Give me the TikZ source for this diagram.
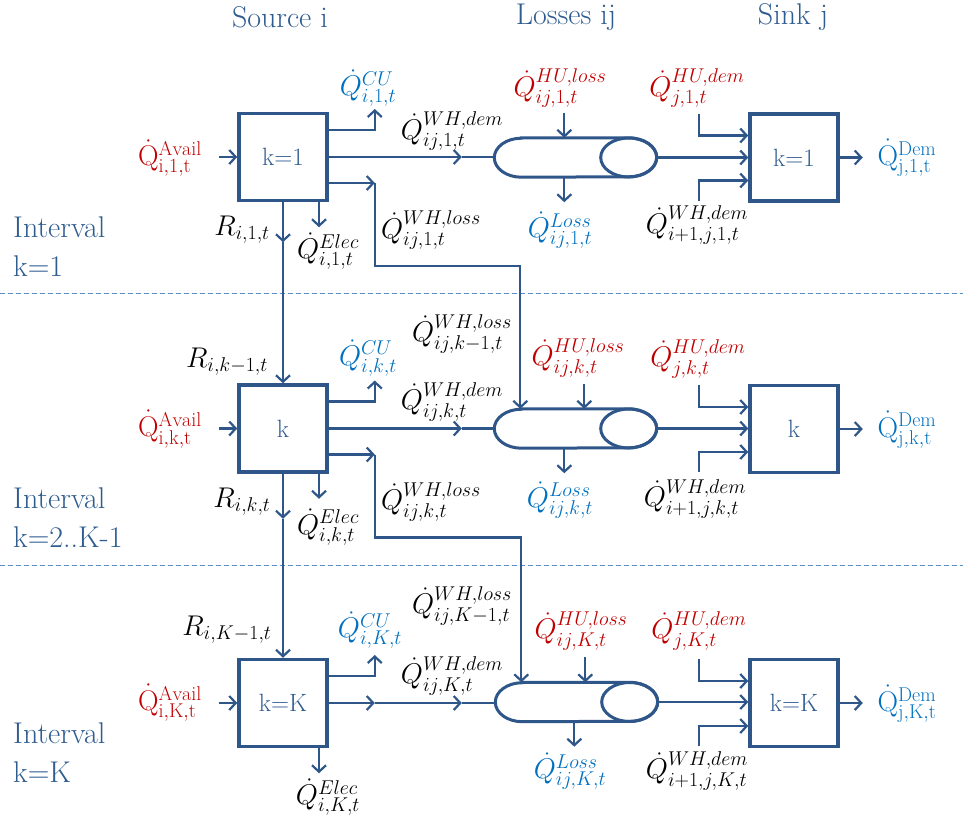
\RequirePackage{fix-cm}
\documentclass[tikz,border=0pt]{standalone}
\usepackage{amsmath}
\usepackage{fontspec}
\usetikzlibrary{arrows.meta,calc}
\definecolor{lineblue}{HTML}{2F5689}
\definecolor{txtblue}{HTML}{2F5C8F}
\definecolor{qred}{HTML}{C00000}
\definecolor{qblue}{HTML}{0070C0}
\definecolor{dashblue}{HTML}{5B8CCB}
\newcommand{\drawpipe}[3]{%
  \node[pipebox] (#1) at (#2,#3) {};
  \draw[pipeline] ([xshift=27pt]#1.north west) -- ([xshift=-28pt]#1.north east)
    arc[start angle=90,end angle=-90,x radius=28pt,y radius=19.5pt]
    -- ([xshift=27pt]#1.south west)
    arc[start angle=270,end angle=90,x radius=27pt,y radius=19.5pt] -- cycle;
  \draw[pipeline] ([xshift=-28pt]#1.east) ellipse[x radius=28pt,y radius=19.5pt];
}
\begin{document}
\begin{tikzpicture}[x=1pt,y=1pt,
  >={Straight Barb[length=6.5pt,width=14pt]},
  conn/.style={draw=lineblue, line width=2.2pt},
  arr/.style={conn,->},
  srcbox/.style={draw=lineblue, line width=3.5pt, minimum width=88pt, minimum height=87pt,
     inner sep=0pt, text=txtblue, font=\fontsize{25}{27}\selectfont},
  pipebox/.style={minimum width=162pt, minimum height=39pt, inner sep=0pt},
  pipeline/.style={draw=lineblue, line width=3pt},
  lbl/.style={inner sep=0pt, font=\fontsize{28.5}{30}\selectfont},
  lred/.style={lbl, text=qred},
  lblue/.style={lbl, text=qblue},
  lblack/.style={lbl, text=black},
  head/.style={text=txtblue, font=\fontsize{30}{39}\selectfont, inner sep=0pt},
  sepline/.style={draw=dashblue, line width=1pt, dash pattern=on 5pt off 3pt}
  ]
\useasboundingbox (0,0) rectangle (963,-822);

% separators
\draw[sepline] (0,-293) -- (963,-293);
\draw[sepline] (0,-565) -- (963,-565);

% headers
\node[head] (hsrc) at (280,-17) {Source i};
\node[head] (hlos) at (566,-17) {Losses ij};
\node[head] (hsnk) at (793,-17) {Sink j};

% interval labels
\node[head, align=left, anchor=west] (iv1) at (13,-247) {Interval\\k=1};
\node[head, align=left, anchor=west] (iv2) at (13,-518) {Interval\\k=2..K-1};
\node[head, align=left, anchor=west] (iv3) at (13,-753) {Interval\\k=K};

% boxes
\node[srcbox] (s1) at (283,-157) {k=1};
\node[srcbox] (s2) at (283,-428.5) {k};
\node[srcbox] (s3) at (283,-703) {k=K};
\node[srcbox] (t1) at (794,-157.5) {k=1};
\node[srcbox] (t2) at (794,-429) {k};
\node[srcbox] (t3) at (794,-703) {k=K};

% pipes
\drawpipe{p1}{575.5}{-157.5}
\drawpipe{p2}{575.5}{-428.5}
\drawpipe{p3}{576.5}{-702}

% repeated connectors
\foreach \r in {1,2,3} {
  \draw[arr] ([xshift=-18pt]s\r.west) -- (s\r.west);
  \draw[arr] ([yshift=27pt]s\r.east) -| ([xshift=46pt,yshift=48pt]s\r.east);
  \draw[arr] ([xshift=36pt]s\r.south) -- ++(0,-25pt);
  \draw[arr] (p\r.east) -- (p\r.east -| t\r.west);
  \draw[arr] ([xshift=-49pt,yshift=44pt]t\r.west) |- ([yshift=22pt]t\r.west);
  \draw[arr] ([xshift=-49pt,yshift=-43pt]t\r.west) |- ([yshift=-23pt]t\r.west);
  \draw[arr] (t\r.east) -- ++(23pt,0);
  \coordinate (m\r) at ($(s\r.east)+(133pt,0)$);
  \draw[conn] (m\r) -- (m\r -| p\r.west);
}
\draw[arr] (s1.east) -- (m1);
\draw[arr] (s2.east) -- (m2);
\coordinate (m3a) at ($(s3.east)+(46pt,0)$);
\draw[arr] (s3.east) -- (m3a);
\draw[arr] (m3a) -- (m3);

% loss lines to next interval
\draw[arr] ([yshift=-26pt]s1.east) -- ++(46pt,0) coordinate (c1);
\draw[arr] (c1) -- ++(0,-83pt) -| ([xshift=26pt]p2.north west);
\draw[arr] ([yshift=-26pt]s2.east) -- ++(46pt,0) coordinate (c2);
\draw[arr] (c2) -- ++(0,-83pt) -| ([xshift=26pt]p3.north west);

% R lines
\draw[arr] (s1.south) -- ++(0,-40pt) coordinate (rm1);
\draw[arr] (rm1) -- (s2.north);
\draw[arr] (s2.south) -- ++(0,-45pt) coordinate (rm2);
\draw[arr] (rm2) -- (s3.north);

% HU,loss and Loss arrows
\draw[arr] ([xshift=70pt,yshift=25pt]p1.north west) -- ([xshift=70pt]p1.north west);
\draw[arr] ([xshift=90pt,yshift=25pt]p2.north west) -- ([xshift=90pt]p2.north west);
\draw[arr] ([xshift=90pt,yshift=25pt]p3.north west) -- ([xshift=90pt]p3.north west);
\draw[arr] ([xshift=70pt]p1.south west) -- ++(0,-25pt);
\draw[arr] ([xshift=70pt]p2.south west) -- ++(0,-25pt);
\draw[arr] ([xshift=79pt]p3.south west) -- ++(0,-25pt);

% labels row 1
\node[lred]   (av1) at (170,-158) {$\dot{\mathrm{Q}}^{\mathrm{Avail}}_{\mathrm{i,1,t}}$};
\node[lblue]  (cu1) at (368,-88)  {$\dot{Q}^{CU}_{i,1,t}$};
\node[lblack] (wd1) at (452,-131) {$\dot{Q}^{WH,dem}_{ij,1,t}$};
\node[lblack] (wl1) at (431,-230) {$\dot{Q}^{WH,loss}_{ij,1,t}$};
\node[lblack] (el1) at (328,-251) {$\dot{Q}^{Elec}_{i,1,t}$};
\node[lblack] (r1)  at (242,-230) {$R_{i,1,t}$};
\node[lred]   (hl1) at (560,-88)  {$\dot{Q}^{HU,loss}_{ij,1,t}$};
\node[lblue]  (ls1) at (560,-230) {$\dot{Q}^{Loss}_{ij,1,t}$};
\node[lred]   (hd1) at (697,-88)  {$\dot{Q}^{HU,dem}_{j,1,t}$};
\node[lblack] (wn1) at (697,-225) {$\dot{Q}^{WH,dem}_{i+1,j,1,t}$};
\node[lblue]  (dm1) at (907,-158) {$\dot{\mathrm{Q}}^{\mathrm{Dem}}_{\mathrm{j,1,t}}$};

% labels row 2
\node[lblack] (rk1) at (227,-362) {$R_{i,k-1,t}$};
\node[lblack] (wlk1) at (462,-334) {$\dot{Q}^{WH,loss}_{ij,k-1,t}$};
\node[lblue]  (cu2) at (368,-358) {$\dot{Q}^{CU}_{i,k,t}$};
\node[lblack] (wd2) at (452,-402) {$\dot{Q}^{WH,dem}_{ij,k,t}$};
\node[lred]   (av2) at (170,-429) {$\dot{\mathrm{Q}}^{\mathrm{Avail}}_{\mathrm{i,k,t}}$};
\node[lblack] (wl2) at (431,-502) {$\dot{Q}^{WH,loss}_{ij,k,t}$};
\node[lblack] (el2) at (328,-527) {$\dot{Q}^{Elec}_{i,k,t}$};
\node[lblack] (r2)  at (242,-502) {$R_{i,k,t}$};
\node[lred]   (hl2) at (578,-358) {$\dot{Q}^{HU,loss}_{ij,k,t}$};
\node[lred]   (hd2) at (698,-359) {$\dot{Q}^{HU,dem}_{j,k,t}$};
\node[lblue]  (ls2) at (560,-500) {$\dot{Q}^{Loss}_{ij,k,t}$};
\node[lblack] (wn2) at (695,-499) {$\dot{Q}^{WH,dem}_{i+1,j,k,t}$};
\node[lblue]  (dm2) at (907,-430) {$\dot{\mathrm{Q}}^{\mathrm{Dem}}_{\mathrm{j,k,t}}$};

% labels row 3
\node[lblack] (rK1) at (227,-630) {$R_{i,K-1,t}$};
\node[lblack] (wlK1) at (462,-606) {$\dot{Q}^{WH,loss}_{ij,K-1,t}$};
\node[lblue]  (cu3) at (370,-630) {$\dot{Q}^{CU}_{i,K,t}$};
\node[lblack] (wd3) at (452,-676) {$\dot{Q}^{WH,dem}_{ij,K,t}$};
\node[lred]   (av3) at (170,-703) {$\dot{\mathrm{Q}}^{\mathrm{Avail}}_{\mathrm{i,K,t}}$};
\node[lred]   (hl3) at (581,-631) {$\dot{Q}^{HU,loss}_{ij,K,t}$};
\node[lred]   (hd3) at (699,-631) {$\dot{Q}^{HU,dem}_{j,K,t}$};
\node[lblue]  (ls3) at (570,-771) {$\dot{Q}^{Loss}_{ij,K,t}$};
\node[lblack] (wn3) at (697,-771) {$\dot{Q}^{WH,dem}_{i+1,j,K,t}$};
\node[lblue]  (dm3) at (907,-704) {$\dot{\mathrm{Q}}^{\mathrm{Dem}}_{\mathrm{j,K,t}}$};
\node[lblack] (el3) at (328,-797) {$\dot{Q}^{Elec}_{i,K,t}$};
\end{tikzpicture}
\end{document}
